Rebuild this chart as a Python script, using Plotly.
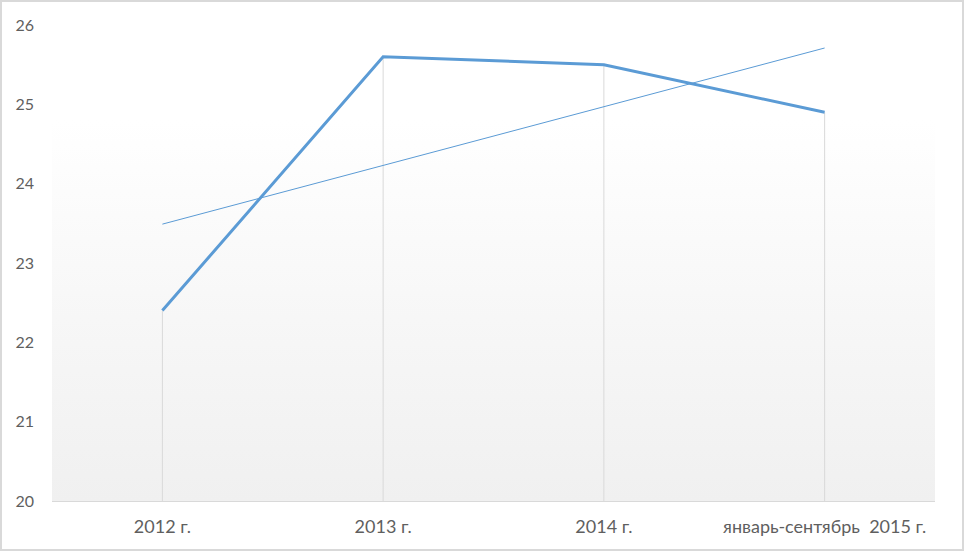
import numpy as np
import plotly.graph_objects as go

categories = ["2012 г.", "2013 г.", "2014 г.", "январь-сентябрь  2015 г."]
values = [22.4, 25.6, 25.5, 24.9]
y_ticks = [20, 21, 22, 23, 24, 25, 26]

W, H = 964, 551
ml, mr, mt, mb = 52, 29, 25, 50

xi = np.arange(len(values))
slope, intercept = np.polyfit(xi, values, 1)
trend = [intercept + slope * xi[0], intercept + slope * xi[-1]]

fig = go.Figure()

# gradient background of plot area
fig.add_trace(go.Scatter(
    x=[-0.5, 3.5, 3.5, -0.5, -0.5], y=[20, 20, 26, 26, 20],
    mode="lines", line=dict(width=0), fill="toself",
    fillgradient=dict(type="vertical", start=20, stop=26,
                      colorscale=[[0, "#f0f0f0"], [0.55, "#fafafa"], [0.8, "#ffffff"], [1, "#ffffff"]]),
    hoverinfo="skip", showlegend=False,
))

# drop lines
dx, dy = [], []
for i, v in enumerate(values):
    dx += [i, i, None]
    dy += [20, v, None]
fig.add_trace(go.Scatter(x=dx, y=dy, mode="lines",
                         line=dict(color="#d9d9d9", width=1),
                         hoverinfo="skip", showlegend=False))

fig.add_trace(go.Scatter(x=list(xi), y=values, mode="lines",
                         line=dict(color="#5b9bd5", width=3),
                         showlegend=False))

fig.add_trace(go.Scatter(x=[xi[0], xi[-1]], y=trend, mode="lines",
                         line=dict(color="#5b9bd5", width=1),
                         showlegend=False))

pw = W - ml - mr
ph = H - mt - mb
fig.add_shape(type="rect", xref="paper", yref="paper",
              x0=(1 - ml) / pw, x1=(W - 1 - ml) / pw,
              y0=-(mb - 1) / ph, y1=1 + (mt - 1) / ph,
              line=dict(color="#d9d9d9", width=2), fillcolor="rgba(0,0,0,0)", layer="above")

fig.update_layout(
    width=W, height=H,
    margin=dict(l=ml, r=mr, t=mt, b=mb),
    paper_bgcolor="white", plot_bgcolor="white",
    font=dict(family="Lato, 'Open Sans', sans-serif", color="#595959"),
    xaxis=dict(
        range=[-0.5, 3.5], tickmode="array", tickvals=list(xi), ticktext=categories,
        showgrid=False, zeroline=False, showline=True, linecolor="#d9d9d9", linewidth=1,
        ticks="", tickfont=dict(size=18, color="#5f5f5f"), ticklabelstandoff=9,
    ),
    yaxis=dict(
        range=[20, 26], tickmode="array", tickvals=y_ticks,
        showgrid=False, zeroline=False, showline=False, ticks="",
        tickfont=dict(size=16, color="#5f5f5f"), ticklabelstandoff=17,
    ),
)

fig.write_html("out.html", config={"displayModeBar": False},
               post_script="document.body.style.margin='0';document.body.style.overflow='hidden';")
